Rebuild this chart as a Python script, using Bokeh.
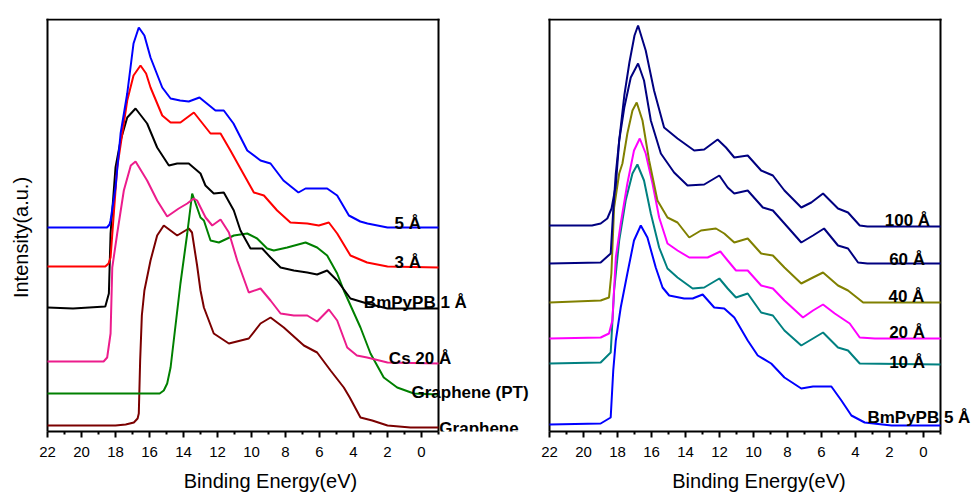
import math
from bokeh.plotting import figure
from bokeh.models import Range1d, FixedTicker, Label
from bokeh.layouts import row
from bokeh.embed import file_html
from bokeh.resources import INLINE

# ---------------- Left panel data (binding energy eV, intensity a.u.) ----------------
bm5_e = [22, 18.5, 18.35, 18.29, 18.0, 17.7, 17.31, 16.94, 16.63, 16.3, 15.94, 15.25, 14.76, 14.2, 13.69, 13.06,
         12.12, 11.63, 11.06, 10.25, 9.47, 8.88, 8.12, 7.24, 6.82, 5.55, 4.96, 4.27, 3.6, 3.18, 2.0, -1]
bm5_i = [204, 204, 207, 211, 244, 298, 338, 388, 404, 396, 374, 344, 333, 331, 330, 334,
         321, 321, 308, 281, 271, 268, 251, 239, 243, 243, 236, 216, 210, 208, 204, 204]

bm3_e = [22, 18.6, 18.41, 18.29, 17.9, 17.31, 16.94, 16.53, 16.2, 15.94, 15.25, 14.76, 14.18, 13.39, 12.41,
         11.82, 11.24, 10.65, 9.86, 9.27, 8.49, 7.71, 6.72, 6.04, 5.45, 4.96, 4.18, 3.2, 2.0, -1]
bm3_i = [165, 165, 168, 174, 264, 331, 356, 366, 358, 344, 316, 309, 309, 319, 298,
         298, 281, 263, 239, 236, 221, 209, 208, 206, 209, 198, 176, 169, 165, 164]

bm1_e = [22, 20.5, 18.6, 18.39, 18.29, 18.0, 17.7, 17.31, 16.82, 16.14, 15.55, 14.86, 14.37, 13.69, 13.0,
         12.71, 12.22, 11.63, 11.04, 10.65, 10.06, 9.37, 8.88, 8.29, 7.51, 6.72, 6.14, 5.55, 4.96, 4.18, 3.2, 2.0, -1]
bm1_i = [124, 123, 125, 138, 198, 264, 291, 314, 323, 308, 284, 266, 268, 268, 258,
         246, 238, 239, 221, 201, 183, 183, 174, 164, 161, 159, 157, 161, 151, 133, 128, 123, 123]

cs20_e = [22, 18.7, 18.49, 18.29, 18.19, 17.9, 17.51, 17.1, 16.82, 16.14, 15.55, 14.96, 14.28, 13.78, 13.4, 13.2,
          12.7, 12.31, 11.82, 11.33, 10.84, 10.16, 9.47, 8.88, 8.29, 7.51, 6.72, 6.14, 5.45, 4.96, 4.37, 3.8, 3.2, 2.0, -1]
cs20_i = [70, 70, 74, 98, 164, 198, 241, 266, 270, 251, 231, 215, 223, 228, 233, 231,
          214, 206, 212, 199, 171, 139, 143, 131, 118, 116, 116, 110, 122, 111, 84, 76, 74, 69, 68]

gpt_e = [22, 15.4, 15.16, 14.96, 14.76, 14.18, 13.78, 13.49, 13.0, 12.8, 12.41, 11.92, 11.04, 10.25, 9.67,
         9.08, 8.69, 7.9, 6.82, 6.14, 5.55, 4.96, 4.57, 3.59, 3.0, 2.22, 1.43, 0.45, -1]
gpt_i = [38, 38, 41, 48, 64, 148, 198, 238, 214, 211, 191, 189, 196, 198, 193,
         183, 181, 184, 189, 184, 176, 158, 141, 104, 78, 54, 44, 38, 37]

gr_e = [22, 18, 17.4, 16.92, 16.7, 16.63, 16.55, 16.45, 16.3, 15.94, 15.55, 15.16, 14.37, 13.69, 13.5, 13.2,
        13.0, 12.8, 12.22, 11.33, 10.16, 9.47, 8.88, 8.1, 6.92, 6.14, 5.35, 4.57, 4.22, 3.59, 2.9, 2.0, 0.65, -1]
gr_i = [6, 6, 7, 9, 13, 18, 71, 116, 141, 171, 196, 206, 196, 203, 199, 166,
        141, 124, 98, 88, 93, 108, 114, 104, 86, 79, 61, 44, 34, 14, 11, 6, 4, 4]

# ---------------- Right panel data ----------------
t100_e = [22, 19.5, 18.99, 18.6, 18.35, 18.1, 17.9, 17.6, 17.3, 17.0, 16.79, 16.34, 15.85, 15.26, 14.47, 13.49,
          12.9, 12.11, 11.62, 11.13, 10.34, 9.55, 8.86, 8.18, 7.19, 6.6, 5.91, 5.03, 4.44, 3.75, 3.3, -1]
t100_i = [206, 206, 208, 213, 223, 246, 291, 336, 369, 396, 406, 381, 341, 304, 293, 281,
          282, 292, 284, 274, 276, 261, 256, 241, 224, 229, 238, 223, 219, 206, 205, 205]

t60_e = [22, 18.99, 18.4, 18.24, 18.1, 17.9, 17.6, 17.22, 16.79, 16.44, 16.04, 15.45, 14.67, 13.88, 12.9,
         12.01, 11.52, 11.13, 10.34, 9.45, 8.86, 8.18, 7.19, 6.5, 5.85, 5.03, 4.44, 3.85, 3.3, -1]
t60_i = [168, 169, 178, 224, 258, 291, 324, 354, 368, 351, 311, 278, 259, 246, 247,
         256, 244, 238, 241, 224, 221, 208, 189, 196, 203, 186, 183, 169, 168, 168]

t40_e = [22, 18.99, 18.5, 18.36, 18.2, 17.9, 17.71, 17.42, 17.12, 16.87, 16.53, 16.14, 15.65, 15.06, 14.47, 13.78,
         13.09, 12.21, 11.72, 11.13, 10.34, 9.55, 8.86, 8.18, 7.19, 6.5, 5.91, 5.03, 4.44, 3.55, -1]
t40_i = [129, 131, 134, 158, 224, 258, 268, 298, 321, 329, 311, 271, 231, 214, 209, 194,
         201, 203, 198, 189, 193, 178, 176, 164, 148, 154, 159, 146, 141, 129, 129]

t20_e = [22, 18.99, 18.5, 18.3, 18.1, 17.81, 17.42, 17.03, 16.69, 16.34, 15.94, 15.55, 15.06, 14.47, 13.78, 12.7,
         11.95, 11.52, 11.03, 10.34, 9.55, 8.86, 8.18, 7.09, 6.5, 5.91, 5.22, 4.34, 3.75, 2.86, -1]
t20_i = [93, 94, 98, 111, 174, 208, 248, 281, 293, 278, 248, 214, 188, 181, 174, 174,
         180, 171, 161, 161, 146, 143, 131, 114, 121, 127, 118, 108, 94, 93, 93]

t10_e = [22, 18.99, 18.4, 18.2, 17.9, 17.52, 17.12, 16.83, 16.44, 16.04, 15.55, 15.06, 14.47, 13.58, 12.9,
         12.01, 11.52, 11.03, 10.34, 9.55, 8.86, 8.18, 7.19, 6.5, 5.91, 5.03, 4.44, 3.75, -1]
t10_i = [68, 69, 79, 141, 191, 231, 258, 267, 251, 218, 184, 163, 154, 143, 144,
         153, 143, 134, 138, 119, 116, 101, 86, 93, 99, 84, 81, 68, 67]

t5_e = [22, 18.99, 18.4, 18.25, 18.1, 17.81, 17.42, 17.03, 16.63, 16.24, 15.75, 15.35, 14.96, 14.08, 13.58, 12.99,
        12.31, 11.72, 11.13, 10.34, 9.75, 8.96, 8.18, 7.19, 6.5, 5.42, 4.83, 4.24, 3.46, 1.88, -1]
t5_i = [7, 8, 14, 61, 91, 124, 158, 191, 206, 194, 164, 144, 136, 133, 133, 137,
        124, 123, 114, 91, 76, 68, 54, 43, 45, 45, 31, 16, 9, 6, 6]

major_ticks = [0, 2, 4, 6, 8, 10, 12, 14, 16, 18, 20, 22]
minor_ticks = [-1, 1, 3, 5, 7, 9, 11, 13, 15, 17, 19, 21]
E_HI, E_LO = 22, -1          # plotted energy window (box edges)
I_TOP = 412                  # intensity at the top of the box

FONT = "Liberation Sans"
PX_PER_EV = 17.0


def make_fig(width, box_left_px):
    # the frame is wider than the drawn box so that curve labels may sit outside the box
    x_start = E_HI + box_left_px / PX_PER_EV
    x_end = x_start - width / PX_PER_EV
    p = figure(width=width, height=500, x_range=Range1d(x_start, x_end), y_range=Range1d(0, I_TOP + 1),
               output_backend="svg", toolbar_location=None,
               min_border_left=0, min_border_right=0, min_border_top=18, min_border_bottom=69)
    p.grid.visible = False
    p.yaxis.visible = False
    p.outline_line_color = None
    p.background_fill_color = "white"
    p.border_fill_color = "white"
    xa = p.xaxis[0]
    xa.bounds = (E_LO, E_HI)
    xa.ticker = FixedTicker(ticks=major_ticks, minor_ticks=minor_ticks)
    xa.axis_line_width = 2
    xa.axis_line_color = "black"
    xa.major_tick_line_width = 2
    xa.minor_tick_line_width = 2
    xa.major_tick_line_color = "black"
    xa.minor_tick_line_color = "black"
    xa.major_tick_in = 0
    xa.major_tick_out = 6
    xa.minor_tick_in = 0
    xa.minor_tick_out = 3
    xa.major_label_text_font = FONT
    xa.major_label_text_font_size = "15px"
    xa.major_label_text_color = "black"
    xa.major_label_standoff = 9
    xa.axis_label = "Binding Energy(eV)"
    xa.axis_label_text_font = FONT
    xa.axis_label_text_font_size = "20px"
    xa.axis_label_text_font_style = "normal"
    xa.axis_label_text_color = "black"
    xa.axis_label_standoff = 10
    # box around the plotted window: left, top and right edges (bottom edge is the axis)
    p.segment(x0=[E_HI, E_HI, E_LO], y0=[0, I_TOP, I_TOP],
              x1=[E_HI, E_LO, E_LO], y1=[I_TOP, I_TOP, 0],
              line_color="black", line_width=2, line_cap="square")
    return p


def add_label(p, x, y, text):
    p.add_layout(Label(x=x, y=y, text=text, text_font=FONT, text_font_size="17px",
                       text_font_style="bold", text_color="black",
                       text_align="left", text_baseline="alphabetic"))


left = make_fig(540, 47)
left.line(gr_e, gr_i, line_color="#7B0000", line_width=2)
left.line(gpt_e, gpt_i, line_color="#008000", line_width=2)
left.line(cs20_e, cs20_i, line_color="#EC1C8C", line_width=2)
left.line(bm1_e, bm1_i, line_color="#000000", line_width=2)
left.line(bm3_e, bm3_i, line_color="#FF0000", line_width=2)
left.line(bm5_e, bm5_i, line_color="#0000FF", line_width=2)

add_label(left, 1.59, 208, "5 Å")
add_label(left, 1.59, 169, "3 Å")
add_label(left, 3.39, 129, "BmPyPB 1 Å")
add_label(left, 1.92, 73, "Cs 20 Å")
add_label(left, 0.59, 39, "Graphene (PT)")
add_label(left, -1.05, 3, "Graphene")

left.add_layout(Label(x=23.53, y=194, text="Intensity(a.u.)", angle=math.pi / 2,
                      text_font=FONT, text_font_size="20px", text_color="black",
                      text_align="center", text_baseline="middle"))

right = make_fig(437, 9)
right.line(t5_e, t5_i, line_color="#0000FF", line_width=2)
right.line(t10_e, t10_i, line_color="#008080", line_width=2)
right.line(t20_e, t20_i, line_color="#FF00FF", line_width=2)
right.line(t40_e, t40_i, line_color="#808000", line_width=2)
right.line(t60_e, t60_i, line_color="#000080", line_width=2)
right.line(t100_e, t100_i, line_color="#000080", line_width=2)

add_label(right, 2.28, 211, "100 Å")
add_label(right, 2.02, 172, "60 Å")
add_label(right, 2.06, 135, "40 Å")
add_label(right, 2.02, 99, "20 Å")
add_label(right, 2.02, 69, "10 Å")
add_label(right, 3.3, 14, "BmPyPB 5 Å")

layout = row(left, right, spacing=0)

open("out.html", "w").write(file_html(layout, INLINE))
